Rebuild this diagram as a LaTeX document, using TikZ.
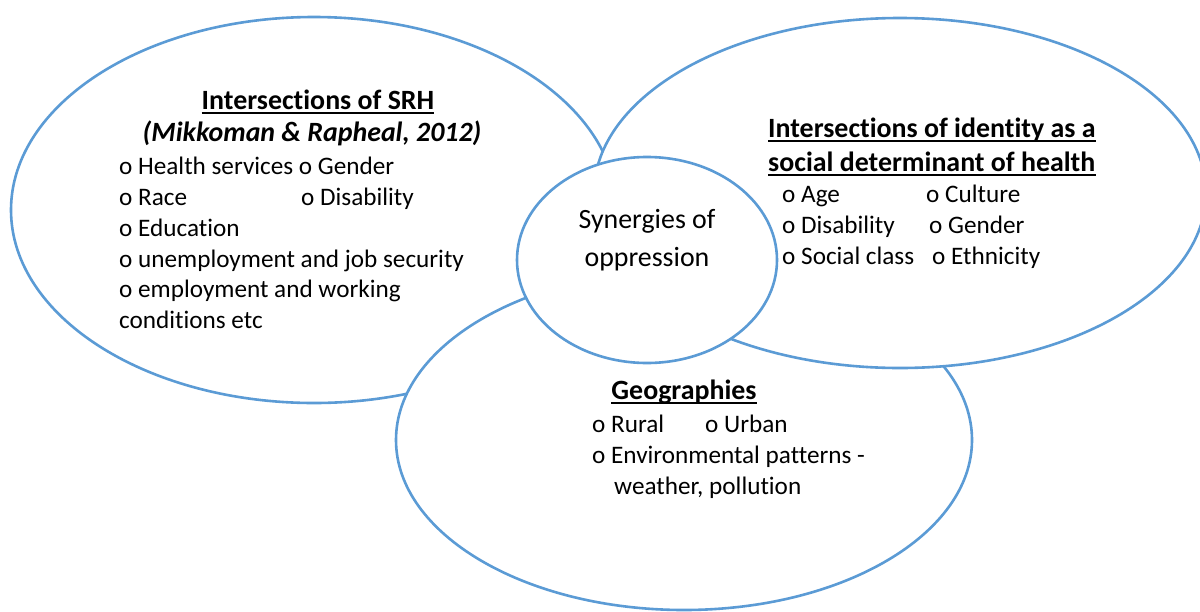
\documentclass[tikz,border=0pt]{standalone}
\usepackage{fontspec}
\setmainfont{Carlito}[Ligatures=NoCommon]
\usetikzlibrary{shapes.geometric}
\definecolor{ringblue}{HTML}{5B9BD5}
\newcommand{\bodysize}{\fontsize{25.2}{30.8}\selectfont}
\newcommand{\headsize}{\fontsize{27.9}{34}\selectfont}
\begin{document}
\begin{tikzpicture}[x=1pt,y=-1pt,
  ring/.style={ellipse, draw=ringblue, line width=2.6pt, fill=white, inner sep=0pt},
  txt/.style={font=\bodysize, inner sep=0pt, anchor=base west},
  ctr/.style={txt, anchor=base},
  head/.style={ctr, font=\headsize\bfseries},
  headwest/.style={txt, font=\headsize\bfseries},
  uline/.style={line width=1.8pt, black}
]
\useasboundingbox (0,0) rectangle (1200,611);

% the three overlapping fields, each one white-filled so it hides what lies under it
\node[ring, minimum width=606pt, minimum height=386pt] (srh) at (314,210) {};
\node[ring, minimum width=576pt, minimum height=340pt] (geo) at (684,440) {};
\node[ring, minimum width=612pt, minimum height=350pt] (ident) at (900,193) {};
% the core circle on top
\node[ring, minimum width=260pt, minimum height=206pt] (syn) at (647,260) {};

% left field: SRH
\node[head] (srhA) at (318,109) {Intersections of SRH};
\draw[uline] ([yshift=-4pt]srhA.base west) -- ([yshift=-4pt]srhA.base east);
\node[head, font=\headsize\bfseries\itshape] (srhB) at (312,141) {(Mikkoman \& Rapheal, 2012)};
\node[txt] (s1) at (119,174) {o Health services o Gender};
\node[txt] (s2) at (119,205) {o Race};
\node[txt] (s2b) at (301,205) {o Disability};
\node[txt] (s3) at (119,236) {o Education};
\node[txt] (s4) at (119,267) {o unemployment and job security};
\node[txt] (s5) at (119,297) {o employment and working};
\node[txt] (s6) at (119,328) {conditions etc};

% right field: identity
\node[headwest] (idA) at (768,137) {Intersections of identity as a};
\draw[uline] ([yshift=-4pt]idA.base west) -- ([yshift=-4pt]idA.base east);
\node[headwest] (idB) at (768,171) {social determinant of health};
\draw[uline] ([yshift=-4pt]idB.base west) -- ([yshift=-4pt]idB.base east);
\node[txt] (i1) at (782,202) {o Age};
\node[txt] (i1b) at (926,202) {o Culture};
\node[txt] (i2) at (782,233) {o Disability};
\node[txt] (i2b) at (929,233) {o Gender};
\node[txt] (i3) at (782,264) {o Social class};
\node[txt] (i3b) at (932,264) {o Ethnicity};

% core
\node[ctr, font=\headsize] (synA) at (647,228) {Synergies of};
\node[ctr, font=\headsize] (synB) at (647,266) {oppression};

% bottom field: geographies
\node[head] (geoA) at (684,399) {Geographies};
\draw[uline] ([yshift=-4pt]geoA.base west) -- ([yshift=-4pt]geoA.base east);
\node[txt] (g1) at (592,432) {o Rural};
\node[txt] (g1b) at (705,432) {o Urban};
\node[txt] (g2) at (592,463) {o Environmental patterns -};
\node[txt] (g3) at (614,494) {weather, pollution};
\end{tikzpicture}
\end{document}
